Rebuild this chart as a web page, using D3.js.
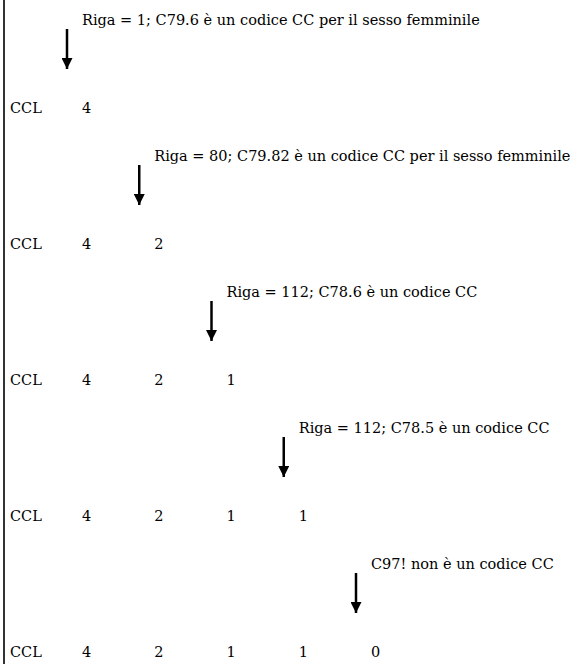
<!DOCTYPE html>
<html>
    <head>
        <meta charset="utf-8">
        <script src="https://d3js.org/d3.v7.min.js"></script>
        <style>
            body { margin: 0; background: #fff; }
        </style>
    </head>
    <body>
        <svg id="chart" width="577" height="664"></svg>
        <script>
            // one step per row of the scan
            const rowLabel = "CCL";
            const notes = [
                "Riga = 1; C79.6 è un codice CC per il sesso femminile",
                "Riga = 80; C79.82 è un codice CC per il sesso femminile",
                "Riga = 112; C78.6 è un codice CC",
                "Riga = 112; C78.5 è un codice CC",
                "C97! non è un codice CC"
            ];
            const counts = [4, 2, 1, 1, 0];

            const svg = d3.select("#chart")
                .attr("font-family", "DejaVu Serif, serif")
                .attr("font-size", 14.5);
            const steps = d3.range(counts.length);

            // columns of values, rows of the scan
            const x = d3.scaleLinear().domain([0, counts.length - 1]).range([82, 371]);
            const y = d3.scaleLinear().domain([0, counts.length - 1]).range([113, 657]);

            svg.append("defs").append("marker")
                .attr("id", "head")
                .attr("viewBox", "0 0 10 10")
                .attr("refX", 10).attr("refY", 5)
                .attr("markerWidth", 4.4).attr("markerHeight", 4.4)
                .attr("markerUnits", "strokeWidth")
                .attr("orient", "auto")
                .append("path").attr("d", "M0,0L10,5L0,10Z").attr("fill", "#000");

            // left border
            svg.append("line")
                .attr("x1", 4).attr("x2", 4)
                .attr("y1", 0).attr("y2", 664)
                .attr("stroke", "#333").attr("stroke-width", 2);

            for (let i of steps) {
                let g = svg.append("g");
                // annotation above the arrow
                g.append("text")
                    .attr("x", x(i))
                    .attr("y", y(i) - 88)
                    .text(notes[i]);
                g.append("line")
                    .attr("x1", x(i) - 15).attr("x2", x(i) - 15)
                    .attr("y1", y(i) - 84).attr("y2", y(i) - 44)
                    .attr("stroke", "#000").attr("stroke-width", 2.5)
                    .attr("marker-end", "url(#head)");
                // the row: label then counts so far
                g.append("text")
                    .attr("x", 10)
                    .attr("y", y(i))
                    .text(rowLabel);
                g.selectAll("text.val")
                    .data(counts.slice(0, i + 1))
                    .enter().append("text")
                    .attr("class", "val")
                    .attr("x", (d, j) => x(j))
                    .attr("y", y(i))
                    .text(d => d);
            }
        </script>
    </body>
</html>
